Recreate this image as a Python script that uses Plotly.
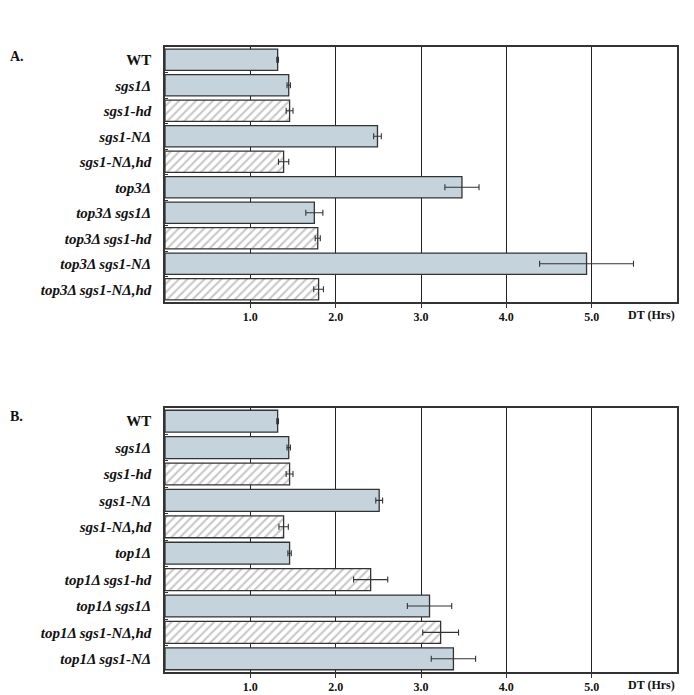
import plotly.graph_objects as go
from plotly.subplots import make_subplots

# ---- data ----
labels_a = ["WT", "sgs1Δ", "sgs1-hd", "sgs1-NΔ", "sgs1-NΔ,hd", "top3Δ",
            "top3Δ sgs1Δ", "top3Δ sgs1-hd", "top3Δ sgs1-NΔ", "top3Δ sgs1-NΔ,hd"]
values_a = [1.32, 1.45, 1.46, 2.49, 1.39, 3.48, 1.75, 1.79, 4.94, 1.80]
errors_a = [0.01, 0.02, 0.04, 0.045, 0.06, 0.2, 0.1, 0.03, 0.55, 0.057]
hatched_a = [False, False, True, False, True, False, False, True, False, True]

labels_b = ["WT", "sgs1Δ", "sgs1-hd", "sgs1-NΔ", "sgs1-NΔ,hd", "top1Δ",
            "top1Δ sgs1-hd", "top1Δ sgs1Δ", "top1Δ sgs1-NΔ,hd", "top1Δ sgs1-NΔ"]
values_b = [1.32, 1.45, 1.46, 2.51, 1.39, 1.46, 2.41, 3.10, 3.23, 3.38]
errors_b = [0.01, 0.02, 0.04, 0.04, 0.055, 0.02, 0.2, 0.26, 0.21, 0.26]
hatched_b = [False, False, True, False, True, False, True, False, True, False]

x_ticks = [1, 2, 3, 4, 5]
x_ticktext = ["1.0", "2.0", "3.0", "4.0", "5.0"]
x_title = "DT (Hrs)"

FILL = "#c5d3dc"
HATCH = "#cfd8de"
LINE = "#333333"
FONT = "Liberation Serif"

fig = make_subplots(rows=2, cols=1, vertical_spacing=0.17)


def fmt(lbl):
    if lbl == "WT":
        return "<b>WT</b>"
    return "<b><i>" + lbl + "</i></b>"


def add_panel(row, labels, values, errors, hatched):
    ticktext = [fmt(l) for l in labels]
    fig.add_trace(go.Bar(
        y=labels, x=values, orientation="h",
        marker=dict(
            color=[("white" if h else FILL) for h in hatched],
            line=dict(color=LINE, width=1.3),
            pattern=dict(
                shape=[("/" if h else "") for h in hatched],
                fgcolor=HATCH, fgopacity=0.3, bgcolor="white", size=6, solidity=0.35,
                fillmode="overlay",
            ),
        ),
        error_x=dict(type="data", array=errors, color=LINE, thickness=1.1, width=3),
        showlegend=False,
    ), row=row, col=1)
    fig.update_yaxes(
        type="category", categoryorder="array", categoryarray=labels,
        autorange="reversed", tickvals=labels, ticktext=ticktext,
        tickfont=dict(family=FONT, size=15, color="#111"),
        showline=True, linecolor=LINE, linewidth=1.5, mirror=True,
        ticks="inside", tickson="boundaries", ticklen=3, tickcolor=LINE,
        ticklabelstandoff=9, showgrid=False, automargin=False,
        row=row, col=1,
    )
    fig.update_xaxes(
        range=[0, 6], tickvals=x_ticks, ticktext=["<b>" + t + "</b>" for t in x_ticktext],
        tickfont=dict(family=FONT, size=12, color="#111"),
        showgrid=True, gridcolor="#222", gridwidth=1,
        showline=True, linecolor=LINE, linewidth=2, mirror=True,
        ticks="outside", ticklen=4, tickcolor=LINE, ticklabelstandoff=-1,
        zeroline=False, automargin=False,
        row=row, col=1,
    )


add_panel(1, labels_a, values_a, errors_a, hatched_a)
add_panel(2, labels_b, values_b, errors_b, hatched_b)

fig.update_layout(
    template="none",
    width=694, height=695,
    margin=dict(l=157, r=25, t=39, b=31),
    paper_bgcolor="white", plot_bgcolor="white",
    bargap=0.17,
    font=dict(family=FONT, color="#111"),
    yaxis=dict(domain=[0.592, 1.0]),
    yaxis2=dict(domain=[0.0, 0.4224]),
)

for xr, yr in (("x domain", "y domain"), ("x2 domain", "y2 domain")):
    fig.add_annotation(xref=xr, yref=yr, x=1.0, y=0, yshift=-13,
                       xanchor="right", yanchor="middle", showarrow=False,
                       text="<b>" + x_title + "</b>",
                       font=dict(family=FONT, size=12, color="#111"))

fig.add_annotation(xref="paper", yref="paper", x=-0.307, y=1.0, yshift=-9,
                   xanchor="left", yanchor="middle", showarrow=False,
                   text="<b>A.</b>", font=dict(family=FONT, size=14, color="#111"))
fig.add_annotation(xref="paper", yref="paper", x=-0.307, y=0.4224, yshift=-8,
                   xanchor="left", yanchor="middle", showarrow=False,
                   text="<b>B.</b>", font=dict(family=FONT, size=14, color="#111"))

fig.write_html("out.html")
